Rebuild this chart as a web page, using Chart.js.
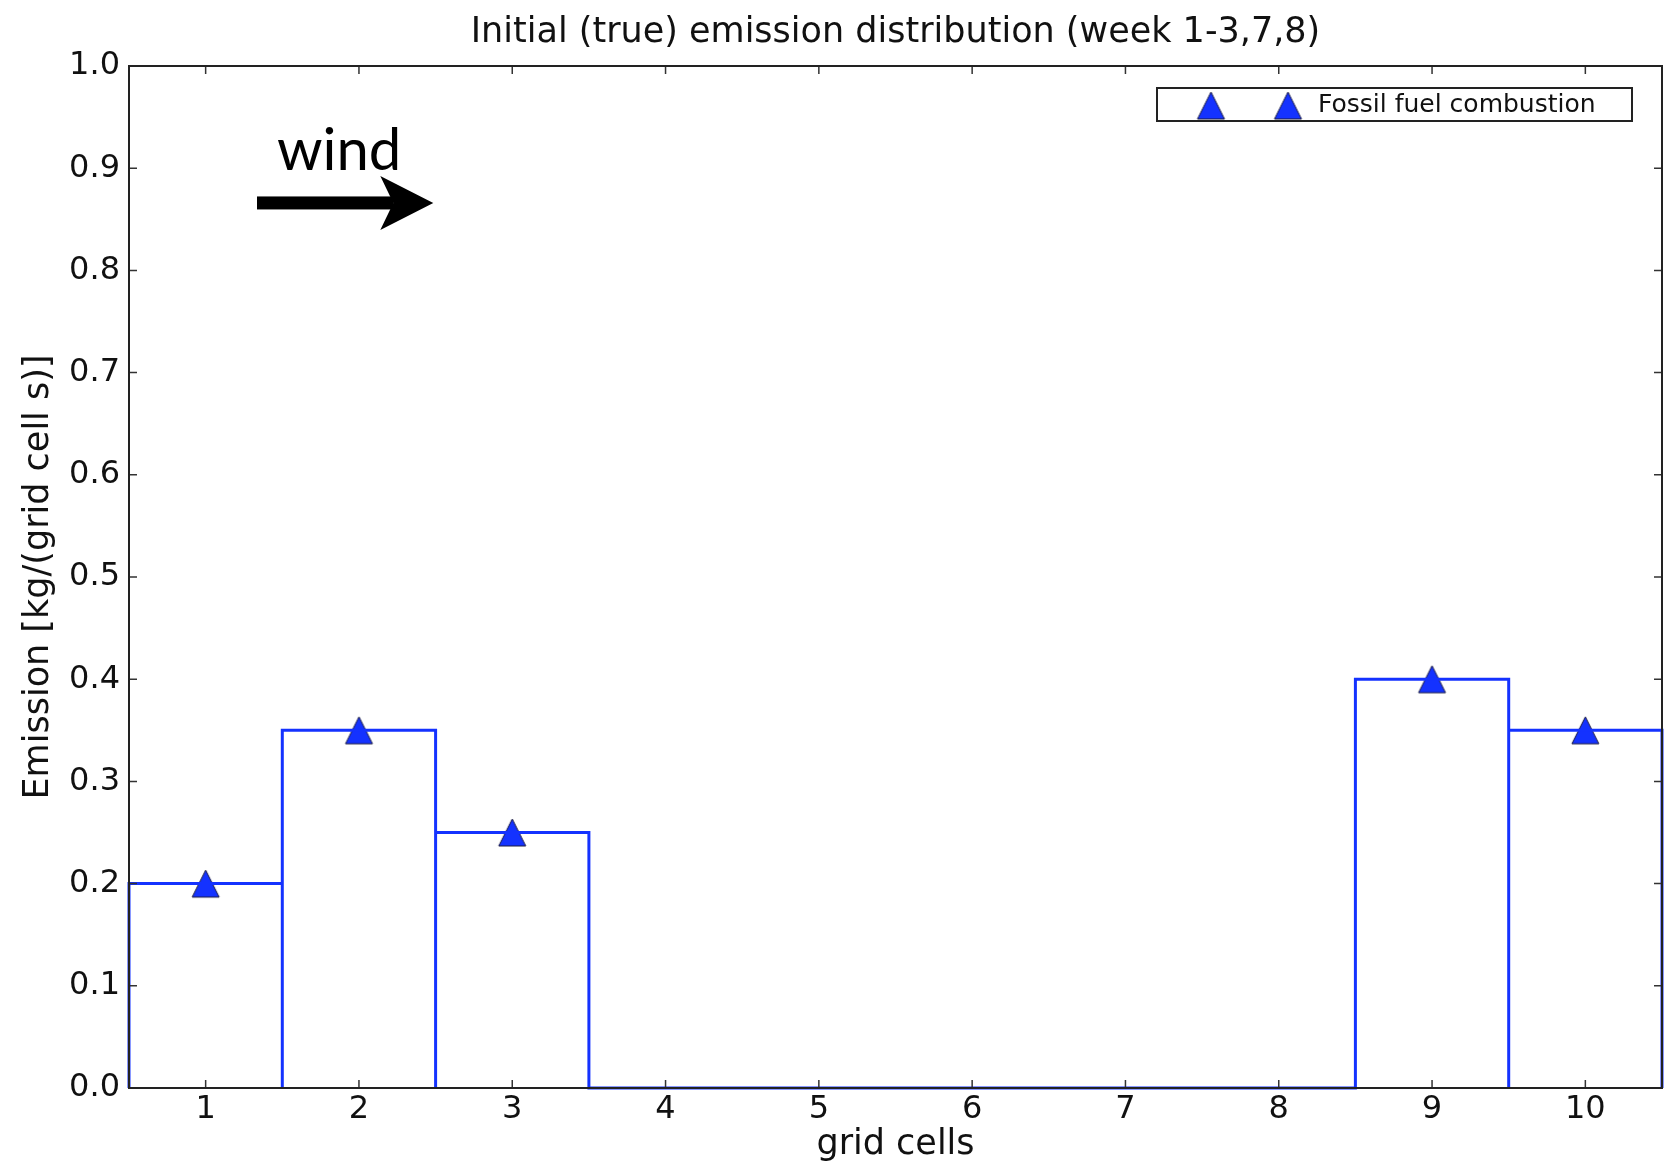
<!DOCTYPE html>
<html>
<head>
<meta charset="utf-8">
<script src="https://cdn.jsdelivr.net/npm/chart.js@4.4.1/dist/chart.umd.min.js"></script>
<style>
  html, body { margin: 0; padding: 0; background: #fff; }
  #wrap { width: 1666px; height: 1166px; }
</style>
</head>
<body>
<div id="wrap"><canvas id="emissionChart" width="1666" height="1166"></canvas></div>
<script>
const cells = [1, 2, 3, 4, 5, 6, 7, 8, 9, 10];
const emission = [0.2, 0.35, 0.25, 0, 0, 0, 0, 0, 0.4, 0.35];
const yTicks = [0, 0.1, 0.2, 0.3, 0.4, 0.5, 0.6, 0.7, 0.8, 0.9, 1.0];
const seriesName = "Fossil fuel combustion";
const blue = "#1432ff";
const font = "'DejaVu Sans', sans-serif";

// bar outlines: each cell spans [c-0.5, c+0.5]
const outline = [];
cells.forEach((c, i) => {
  outline.push({ x: c - 0.5, y: 0 }, { x: c - 0.5, y: emission[i] },
               { x: c + 0.5, y: emission[i] }, { x: c + 0.5, y: 0 });
});

const markerPoints = cells.map((c, i) => ({ x: c, y: emission[i] > 0 ? emission[i] : null }));

// matplotlib-like '^' marker (as wide as tall)
function makeTriangle(size) {
  const cv = document.createElement("canvas");
  cv.width = size + 4; cv.height = size + 4;
  const c = cv.getContext("2d");
  c.beginPath();
  c.moveTo(2 + size / 2, 2);
  c.lineTo(2 + size, 2 + size);
  c.lineTo(2, 2 + size);
  c.closePath();
  c.fillStyle = blue;
  c.fill();
  c.lineWidth = 1;
  c.strokeStyle = "#1a1a40";
  c.stroke();
  return cv;
}
const tri = makeTriangle(27);

const framePlugin = {
  id: "frame",
  afterLayout(chart) {
    // centre the title over the plot area, like matplotlib
    if (chart.titleBlock) {
      chart.titleBlock.left = chart.chartArea.left;
      chart.titleBlock.right = chart.chartArea.right;
    }
  },
  afterDatasetsDraw(chart) {
    const { ctx, chartArea: a, scales } = chart;
    ctx.save();
    ctx.strokeStyle = "#333";
    ctx.lineWidth = 1.5;
    ctx.beginPath();
    scales.y.ticks.forEach(t => {
      const py = scales.y.getPixelForValue(t.value);
      ctx.moveTo(a.left, py); ctx.lineTo(a.left + 8, py);
      ctx.moveTo(a.right, py); ctx.lineTo(a.right - 8, py);
    });
    scales.x.ticks.forEach(t => {
      const px = scales.x.getPixelForValue(t.value);
      ctx.moveTo(px, a.bottom); ctx.lineTo(px, a.bottom - 8);
      ctx.moveTo(px, a.top); ctx.lineTo(px, a.top + 8);
    });
    ctx.stroke();
    ctx.strokeStyle = "#222";
    ctx.lineWidth = 2;
    ctx.strokeRect(a.left, a.top, a.right - a.left, a.bottom - a.top);
    ctx.restore();
  },
  afterDraw(chart) {
    const { ctx, chartArea: a, scales } = chart;
    ctx.save();
    // wind annotation
    const x0 = scales.x.getPixelForValue(1.335);
    const x1 = scales.x.getPixelForValue(2.485);
    const ay = scales.y.getPixelForValue(0.866);
    ctx.fillStyle = "#000";
    ctx.fillRect(x0, ay - 6.5, x1 - x0 - 40, 13);
    ctx.beginPath();
    ctx.moveTo(x1, ay);
    ctx.lineTo(x1 - 53, ay - 27);
    ctx.lineTo(x1 - 40, ay);
    ctx.lineTo(x1 - 53, ay + 27);
    ctx.closePath();
    ctx.fill();
    ctx.font = "58px Lato, sans-serif";
    ctx.textBaseline = "alphabetic";
    ctx.textAlign = "left";
    ctx.fillText("wind", scales.x.getPixelForValue(1.465), scales.y.getPixelForValue(0.898));

    // legend box
    const bx = a.right - 505, by = a.top + 22, bw = 475, bh = 33;
    ctx.fillStyle = "#fff";
    ctx.fillRect(bx, by, bw, bh);
    ctx.strokeStyle = "#222";
    ctx.lineWidth = 2;
    ctx.strokeRect(bx, by, bw, bh);
    [bx + 54, bx + 131].forEach(cx => {
      ctx.drawImage(tri, cx - tri.width / 2, by + bh / 2 - tri.height / 2 + 1);
    });
    ctx.fillStyle = "#111";
    ctx.font = "25px " + font;
    ctx.textBaseline = "middle";
    ctx.fillText(seriesName, bx + 161, by + bh / 2 + 1);
    ctx.restore();
  }
};

new Chart(document.getElementById("emissionChart"), {
  type: "scatter",
  data: {
    datasets: [
      {
        type: "line",
        label: seriesName,
        data: outline,
        borderColor: blue,
        borderWidth: 3,
        pointRadius: 0,
        fill: false,
        tension: 0,
        clip: 6
      },
      {
        label: seriesName,
        data: markerPoints,
        pointStyle: tri,
        pointRadius: 15,
        clip: 20
      }
    ]
  },
  options: {
    responsive: false,
    devicePixelRatio: 1,
    animation: false,
    layout: { autoPadding: false, padding: { left: 0, right: 4, top: 12, bottom: 0 } },
    plugins: {
      legend: { display: false },
      tooltip: { enabled: false },
      title: {
        display: true,
        text: "Initial (true) emission distribution (week 1-3,7,8)",
        color: "#111",
        font: { family: font, size: 35, weight: "normal" },
        padding: { top: 0, bottom: 12 }
      }
    },
    scales: {
      x: {
        type: "linear",
        min: 0.5,
        max: 10.5,
        afterBuildTicks: s => { s.ticks = cells.map(v => ({ value: v })); },
        afterFit: s => { s.height = 78; },
        grid: { display: false, drawTicks: false },
        border: { display: false },
        ticks: { color: "#111", font: { family: font, size: 32 }, padding: 2, maxRotation: 0 },
        title: {
          display: true,
          text: "grid cells",
          color: "#111",
          font: { family: font, size: 35 },
          padding: { top: 0, bottom: 0 }
        }
      },
      y: {
        min: 0,
        max: 1,
        afterBuildTicks: s => { s.ticks = yTicks.map(v => ({ value: v })); },
        afterFit: s => { s.width = 129; },
        grid: { display: false, drawTicks: false },
        border: { display: false },
        ticks: { color: "#111", font: { family: font, size: 32 }, padding: 9, callback: v => v.toFixed(1) },
        title: {
          display: true,
          text: "Emission [kg/(grid cell s)]",
          color: "#111",
          font: { family: font, size: 35 },
          padding: { top: 18, bottom: 0 }
        }
      }
    }
  },
  plugins: [framePlugin]
});
</script>
</body>
</html>
